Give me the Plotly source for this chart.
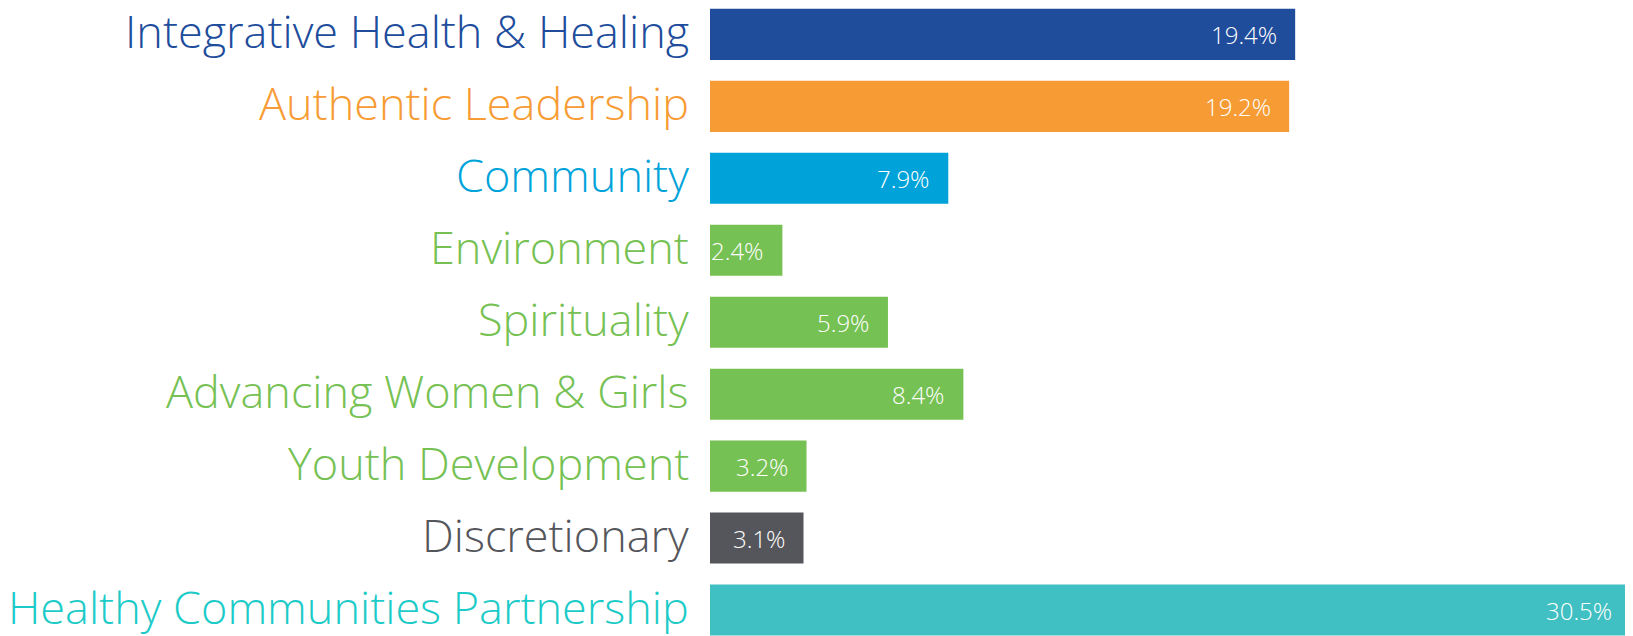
import plotly.graph_objects as go

categories = ["Integrative Health & Healing", "Authentic Leadership", "Community", "Environment",
              "Spirituality", "Advancing Women & Girls", "Youth Development", "Discretionary",
              "Healthy Communities Partnership"]
values = [19.4, 19.2, 7.9, 2.4, 5.9, 8.4, 3.2, 3.1, 30.5]
value_labels = ["19.4%", "19.2%", "7.9%", "2.4%", "5.9%", "8.4%", "3.2%", "3.1%", "30.5%"]
bar_colors = ["#204c9c", "#f79c34", "#00a3d9", "#76c153", "#76c153", "#76c153", "#76c153", "#55565b", "#40c0c2"]
label_colors = ["#204c9c", "#f79c34", "#00a3d9", "#76c153", "#76c153", "#76c153", "#76c153", "#55565b", "#1ccbc8"]

fig = go.Figure(go.Bar(
    x=values, y=categories, orientation="h",
    marker=dict(color=bar_colors, line=dict(width=0)),
    width=0.71, hoverinfo="skip",
))

for c, v, t, lc in zip(categories, values, value_labels, label_colors):
    fig.add_annotation(x=v, y=c, text=t, showarrow=False, xanchor="right", xshift=-16,
                       font=dict(family="Open Sans", size=24, color="white", weight=300))
    fig.add_annotation(x=0, y=c, text=c, showarrow=False, xanchor="right", xshift=-20, yshift=4,
                       borderpad=0,
                       font=dict(family="Open Sans", size=45, color=lc, weight=300))

fig.update_layout(
    width=1625, height=628,
    margin=dict(l=702, r=0, t=0, b=0),
    paper_bgcolor="white", plot_bgcolor="white",
    showlegend=False,
    xaxis=dict(range=[0, 30.6], visible=False),
    yaxis=dict(range=[8.361, -0.367], visible=False, categoryorder="array", categoryarray=categories),
)

fig.write_html("out.html")
